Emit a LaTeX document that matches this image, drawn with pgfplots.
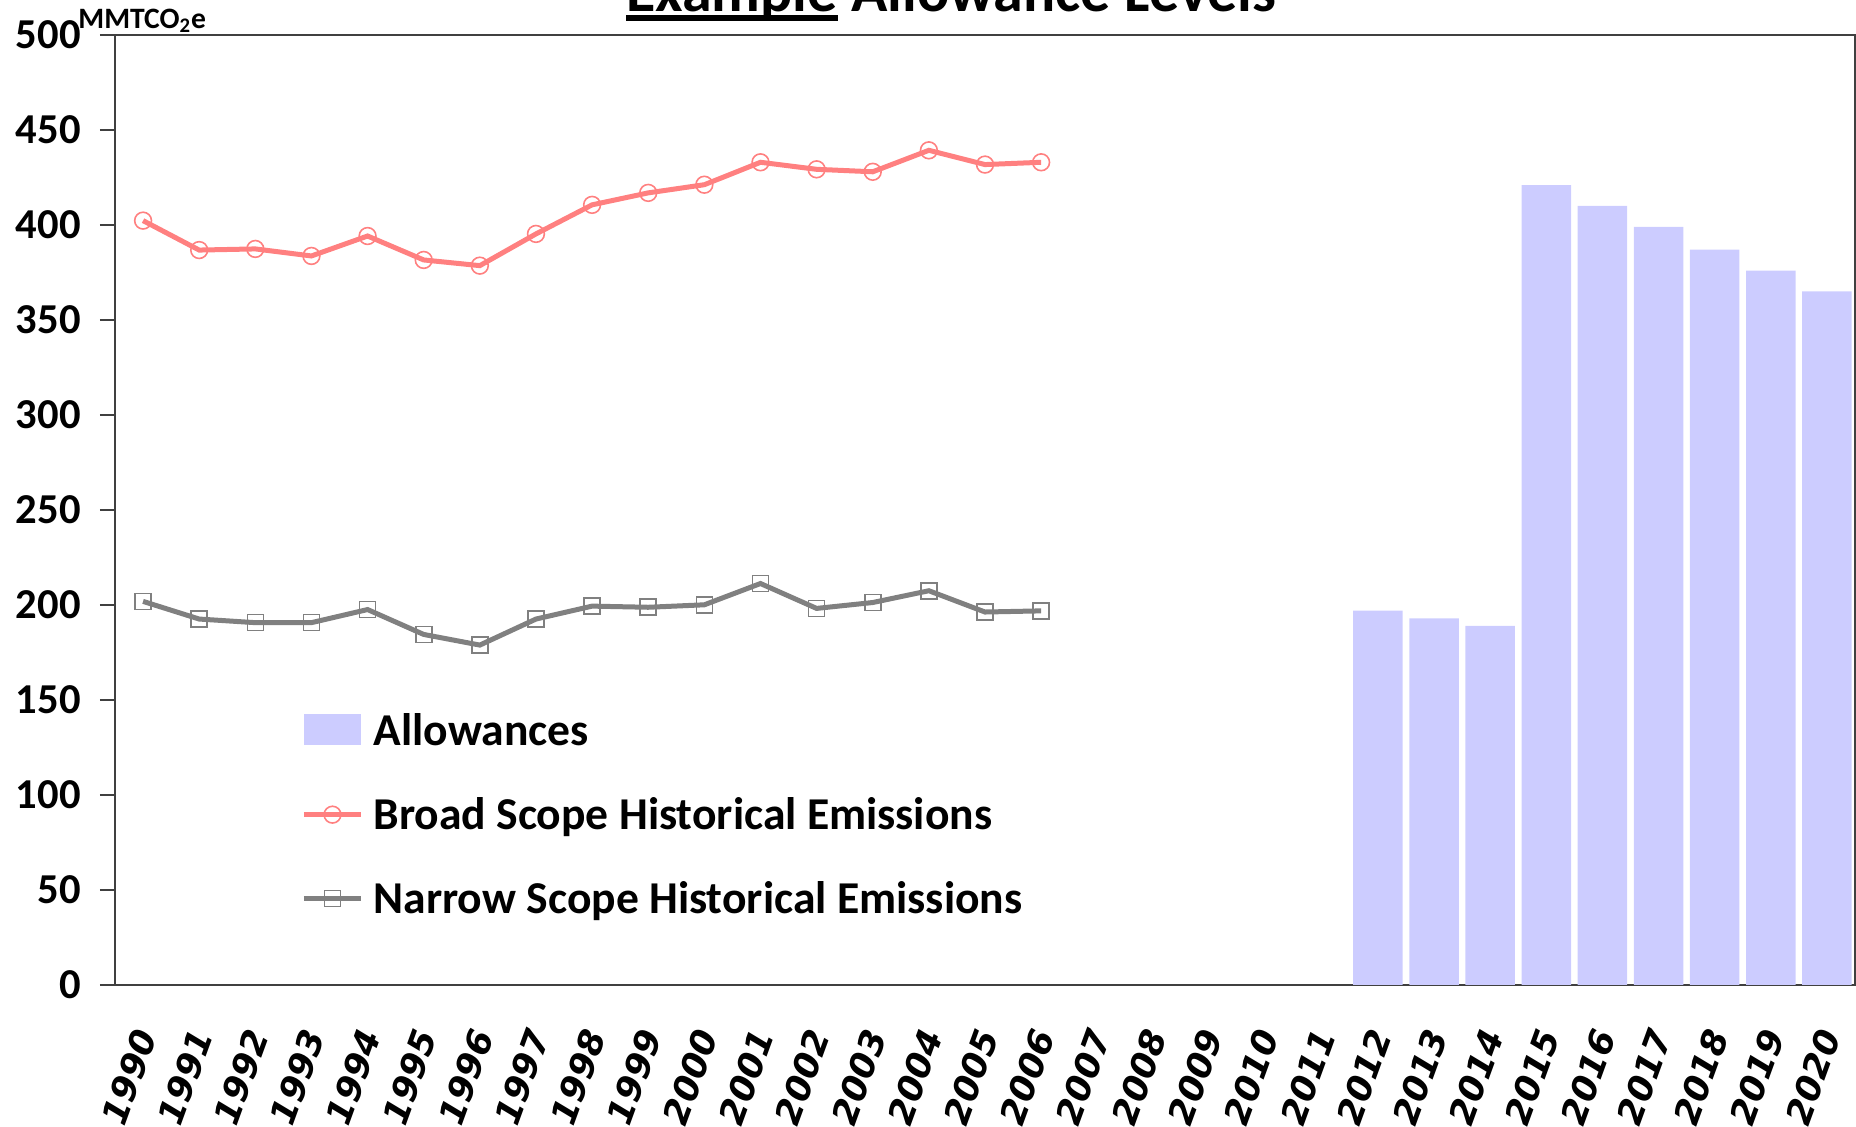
\documentclass[border=0pt]{standalone}
\usepackage{fontspec}
\setmainfont{Carlito}
\newfontfamily\yearfont{DejaVu Sans}
\usepackage{pgfplots}
\pgfplotsset{compat=1.18}

\definecolor{allowfill}{HTML}{CCCCFF}
\definecolor{broadline}{HTML}{FF8080}
\definecolor{narrowline}{HTML}{808080}
\definecolor{axisgray}{HTML}{404040}

\pgfplotsset{
  linelegend/.style={legend image code/.code={%
    \draw[mark repeat=2, mark phase=2, ##1] plot coordinates {(0pt,0pt) (14.25pt,0pt) (28.5pt,0pt)};}},
  barlegend/.style={legend image code/.code={%
    \fill[allowfill] (0pt,-7pt) rectangle (28.5pt,8.5pt);}},
}

% thick underline for the title word
\newsavebox{\ulbox}
\newcommand{\thickul}[1]{\sbox{\ulbox}{#1}\rlap{\rule[-4.5pt]{\wd\ulbox}{2.85pt}}\usebox{\ulbox}}

\begin{document}
\begin{tikzpicture}
\begin{axis}[
  scale only axis,
  width=870pt, height=475pt,
  xmin=-0.5, xmax=30.5,
  ymin=0, ymax=500,
  axis line style={axisgray, line width=0.9pt},
  /pgf/number format/assume math mode=true,
  ytick={0,50,...,500},
  yticklabel style={font=\fontsize{21.3}{21.3}\selectfont\bfseries, inner sep=0pt, xshift=-9.5pt},
  ytick style={axisgray, line width=0.7pt},
  major tick length=7.5pt,
  tick align=outside,
  xtick={0,...,30},
  xticklabels={1990,1991,1992,1993,1994,1995,1996,1997,1998,1999,2000,2001,2002,2003,2004,2005,2006,2007,2008,2009,2010,2011,2012,2013,2014,2015,2016,2017,2018,2019,2020},
  x tick style={draw=none},
  minor xtick={-0.5,0.5,...,30.5},
  minor x tick style={axisgray, line width=0.7pt},
  minor tick length=7.5pt,
  xticklabel style={font=\yearfont\fontsize{17.5}{17.5}\selectfont\bfseries\itshape, inner sep=0pt, xshift=1.4pt, yshift=-15.7pt, rotate=70, anchor=east},
  legend style={
    at={(0.1035,0.295)}, anchor=north west,
    draw=none, fill=none,
    font=\fontsize{22.8}{22.8}\selectfont\bfseries,
    row sep=20.5pt,
    legend cell align=left,
    /tikz/every odd column/.append style={column sep=3pt},
  },
]
\addplot[ybar, bar width=24.75pt, fill=allowfill, draw=none, barlegend]
  coordinates {(22,197) (23,193) (24,189) (25,421) (26,410) (27,399) (28,387) (29,376) (30,365)};
\addlegendentry{Allowances}

\addplot[broadline, line width=2.5pt, mark=o, mark size=4.2pt,
  mark options={line width=0.8pt, fill=none}, linelegend]
  coordinates {(0,402.3) (1,386.8) (2,387.4) (3,383.7) (4,394.2) (5,381.6) (6,378.6) (7,395.3) (8,410.6) (9,416.9) (10,421.2) (11,433) (12,429.3) (13,428) (14,439.3) (15,431.8) (16,433)};
\addlegendentry{Broad Scope Historical Emissions}

\addplot[narrowline, line width=2.5pt, mark=square, mark size=4pt,
  mark options={line width=0.8pt, fill=none}, linelegend]
  coordinates {(0,201.9) (1,192.6) (2,190.7) (3,190.7) (4,197.6) (5,184.5) (6,178.9) (7,192.6) (8,199.4) (9,198.8) (10,200.1) (11,211.3) (12,198.2) (13,201.3) (14,207.5) (15,196.3) (16,196.9)};
\addlegendentry{Narrow Scope Historical Emissions}
\end{axis}

% unit of the value axis
\node[anchor=base west, inner sep=0pt, font=\fontsize{14.8}{14.8}\selectfont\bfseries]
  at (-18.5pt,478.3pt) {MMTCO\textsubscript{2}e};

% chart title, of which only the lower part lies inside the page
\begin{scope}
  \clip (-57.5pt,-71pt) rectangle (870.5pt,492.5pt);
  \node[anchor=base west, inner sep=0pt, font=\fontsize{30}{30}\selectfont\bfseries]
    at (255.5pt,486.6pt) {\thickul{Example} Allowance Levels};
\end{scope}

\pgfresetboundingbox
\useasboundingbox (-57.5pt,-71pt) rectangle (870.5pt,492.5pt);
\end{tikzpicture}
\end{document}
